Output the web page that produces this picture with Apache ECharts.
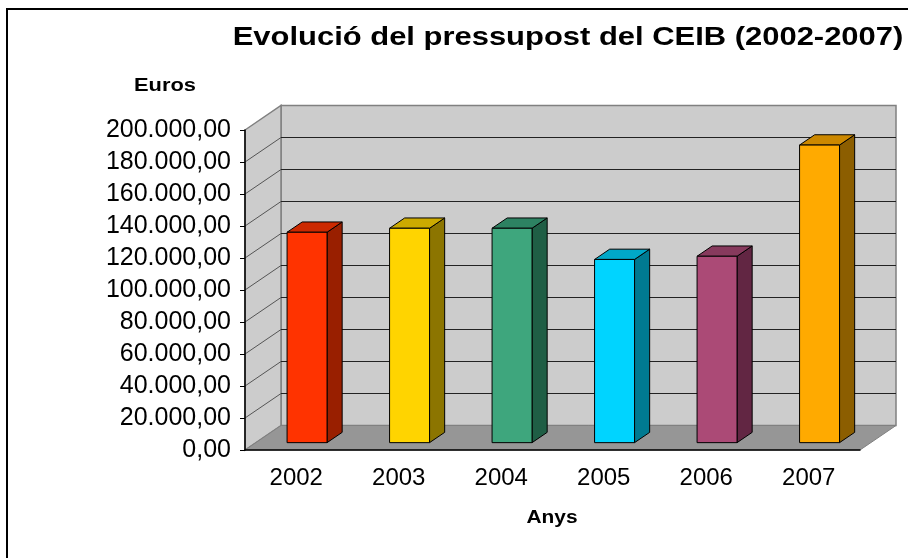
<!DOCTYPE html>
<html>
<head>
<meta charset="utf-8">
<script src="https://cdn.jsdelivr.net/npm/echarts@6/dist/echarts.min.js"></script>
<style>
html, body { margin: 0; padding: 0; background: #fff; }
#chart { width: 908px; height: 558px; }
</style>
</head>
<body>
<div id="chart"></div>
<script>
// data
var years = ['2002', '2003', '2004', '2005', '2006', '2007'];
var budget = [131500, 134000, 134000, 114500, 116500, 186000];
var yMin = 0, yMax = 200000, yStep = 20000;

// bar colours: front / top / side
var frontColors = ['#ff3300', '#ffd400', '#3ea67d', '#00d4ff', '#ab4a76', '#ffaa00'];
var topColors = ['#cc2900', '#ccaa00', '#2d8262', '#00a8c8', '#873a5d', '#cc8800'];
var sideColors = ['#991f00', '#8c7500', '#1f5e45', '#007a91', '#622643', '#8c5e00'];

// depth of the box (px) and where the bars sit in it
var DX = 36, DY = -24.5;
var F0 = 0.3, F1 = 0.72;

function fmtEuro(v) {
    return String(v).replace(/\B(?=(\d{3})+(?!\d))/g, '.') + ',00';
}

function renderWalls(params, api) {
    var cs = params.coordSys;
    var x0 = cs.x, x1 = cs.x + cs.width, yt = cs.y, yb = cs.y + cs.height;
    var kids = [];
    kids.push({
        type: 'rect',
        shape: { x: x0 + DX, y: yt + DY, width: cs.width, height: cs.height },
        style: { fill: '#cccccc', stroke: '#808080', lineWidth: 1.5 }
    });
    kids.push({
        type: 'polygon',
        shape: { points: [[x0, yt], [x0 + DX, yt + DY], [x0 + DX, yb + DY], [x0, yb]] },
        style: { fill: '#cccccc', stroke: '#808080', lineWidth: 1.5 }
    });
    for (var v = yMin + yStep; v < yMax; v += yStep) {
        var y = api.coord([0, v])[1];
        kids.push({
            type: 'line',
            shape: { x1: x0 + DX, y1: y + DY, x2: x1 + DX, y2: y + DY },
            style: { stroke: '#222', lineWidth: 1.2 }
        });
        kids.push({
            type: 'line',
            shape: { x1: x0, y1: y, x2: x0 + DX, y2: y + DY },
            style: { stroke: '#555', lineWidth: 1 }
        });
    }
    kids.push({
        type: 'polygon',
        shape: { points: [[x0, yb], [x0 + DX, yb + DY], [x1 + DX, yb + DY], [x1, yb]] },
        style: { fill: '#969696', stroke: '#808080', lineWidth: 1 }
    });
    return { type: 'group', children: kids };
}

function renderBar(params, api) {
    var i = params.dataIndex;
    var base = api.coord([api.value(0), 0]);
    var top = api.coord([api.value(0), api.value(1)]);
    var bw = api.size([1, 0])[0] * 0.39;
    var dx = DX * (F1 - F0), dy = DY * (F1 - F0);
    var l = base[0] + DX * F0 - bw / 2, r = l + bw;
    var b = base[1] + DY * F0, t = top[1] + DY * F0;
    var edge = { stroke: '#000', lineWidth: 1 };
    return {
        type: 'group',
        children: [
            { type: 'polygon', shape: { points: [[r, b], [r + dx, b + dy], [r + dx, t + dy], [r, t]] },
              style: Object.assign({ fill: sideColors[i] }, edge) },
            { type: 'polygon', shape: { points: [[l, t], [l + dx, t + dy], [r + dx, t + dy], [r, t]] },
              style: Object.assign({ fill: topColors[i] }, edge) },
            { type: 'rect', shape: { x: l, y: t, width: bw, height: b - t },
              style: Object.assign({ fill: frontColors[i] }, edge) }
        ]
    };
}

var myChart = echarts.init(document.getElementById('chart'));
var option = {
    animation: false,
    textStyle: { fontFamily: 'Liberation Sans, Arial, sans-serif' },
    grid: { left: 245, top: 130, width: 615, height: 320 },
    xAxis: {
        type: 'category',
        data: years,
        axisLine: { lineStyle: { color: '#000', width: 1.5 } },
        axisTick: { length: 6, lineStyle: { color: '#000' } },
        axisLabel: { color: '#000', fontSize: 24, margin: 16 },
        splitLine: { show: false }
    },
    yAxis: {
        type: 'value',
        min: yMin,
        max: yMax,
        interval: yStep,
        axisLine: { show: true, lineStyle: { color: '#000', width: 1.5 } },
        axisTick: { show: true, length: 5, lineStyle: { color: '#000' } },
        axisLabel: { color: '#000', fontSize: 25, margin: 14, formatter: fmtEuro },
        splitLine: { show: false }
    },
    graphic: [
        { type: 'rect', x: 7, y: 9, shape: { x: 0, y: 0, width: 1000, height: 1000 },
          style: { fill: 'none', stroke: '#000', lineWidth: 2 } },
        { type: 'text', x: 568, y: 38, scaleX: 1.19,
          style: { text: 'Evolució del pressupost del CEIB (2002-2007)', fontSize: 26, fontWeight: 'bold',
                   fontFamily: 'Liberation Sans', fill: '#000', textAlign: 'center', textVerticalAlign: 'middle' } },
        { type: 'text', x: 165, y: 86, scaleX: 1.15,
          style: { text: 'Euros', fontSize: 19, fontWeight: 'bold', fontFamily: 'Liberation Sans',
                   fill: '#000', textAlign: 'center', textVerticalAlign: 'middle' } },
        { type: 'text', x: 552, y: 518, scaleX: 1.1,
          style: { text: 'Anys', fontSize: 19, fontWeight: 'bold', fontFamily: 'Liberation Sans',
                   fill: '#000', textAlign: 'center', textVerticalAlign: 'middle' } }
    ],
    series: [
        {
            type: 'custom',
            z: -1,
            renderItem: renderWalls,
            data: [[0, 0]],
            silent: true
        },
        {
            type: 'custom',
            renderItem: renderBar,
            encode: { x: 0, y: 1 },
            data: budget.map(function (v, i) { return [i, v]; })
        }
    ]
};
myChart.setOption(option);
window.onresize = myChart.resize;
</script>
</body>
</html>
